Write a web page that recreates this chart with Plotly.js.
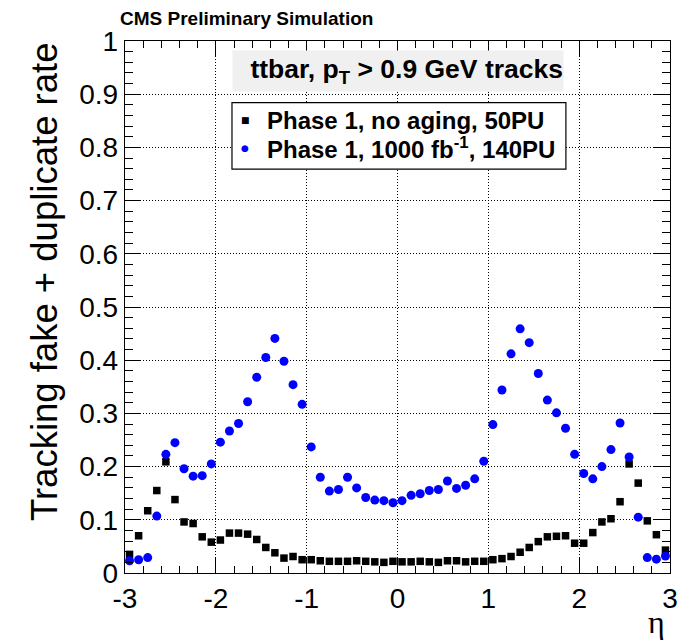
<!DOCTYPE html>
<html>
<head>
<meta charset="utf-8">
<script src="https://cdn.plot.ly/plotly-3.0.1.min.js"></script>
<style>
html, body { margin: 0; padding: 0; background: #ffffff; }
#chart { width: 681px; height: 640px; }
</style>
</head>
<body>
<div id="chart"></div>
<script>
// Bin centres in eta
const etaBins = [
  -2.95, -2.85, -2.75, -2.65, -2.55, -2.45, -2.35, -2.25, -2.15, -2.05,
  -1.95, -1.85, -1.75, -1.65, -1.55, -1.45, -1.35, -1.25, -1.15, -1.05,
  -0.95, -0.85, -0.75, -0.65, -0.55, -0.45, -0.35, -0.25, -0.15, -0.05,
   0.05,  0.15,  0.25,  0.35,  0.45,  0.55,  0.65,  0.75,  0.85,  0.95,
   1.05,  1.15,  1.25,  1.35,  1.45,  1.55,  1.65,  1.75,  1.85,  1.95,
   2.05,  2.15,  2.25,  2.35,  2.45,  2.55,  2.65,  2.75,  2.85,  2.95
];

// Phase 1, no aging, 50PU
const rateNoAging50PU = [
  0.035, 0.070, 0.117, 0.155, 0.209, 0.138, 0.096, 0.093, 0.068, 0.058,
  0.062, 0.075, 0.075, 0.073, 0.063, 0.048, 0.038, 0.028, 0.031, 0.025,
  0.025, 0.023, 0.022, 0.022, 0.022, 0.023, 0.022, 0.021, 0.020, 0.022,
  0.021, 0.021, 0.022, 0.021, 0.020, 0.023, 0.023, 0.021, 0.022, 0.022,
  0.025, 0.027, 0.031, 0.039, 0.048, 0.059, 0.068, 0.069, 0.070, 0.056,
  0.056, 0.076, 0.096, 0.102, 0.134, 0.205, 0.169, 0.098, 0.072, 0.043
];

// Phase 1, 1000 fb-1, 140PU
const rateAged140PU = [
  0.023, 0.025, 0.029, 0.107, 0.223, 0.245, 0.196, 0.182, 0.183, 0.205,
  0.246, 0.267, 0.281, 0.322, 0.368, 0.405, 0.441, 0.398, 0.354, 0.317,
  0.237, 0.180, 0.154, 0.157, 0.180, 0.160, 0.142, 0.137, 0.136, 0.132,
  0.136, 0.146, 0.149, 0.155, 0.157, 0.173, 0.159, 0.165, 0.177, 0.210,
  0.279, 0.344, 0.412, 0.459, 0.433, 0.375, 0.325, 0.301, 0.272, 0.223,
  0.187, 0.177, 0.200, 0.232, 0.282, 0.218, 0.105, 0.029, 0.026, 0.032
];

const seriesNames = [
  "Phase 1, no aging, 50PU",
  "Phase 1, 1000 fb<sup>-1</sup>, 140PU"
];
const seriesColors = ["#000000", "#0000ff"];
const legendGlyphs = ["■", "●"];

const xTickVals = [-3, -2, -1, 0, 1, 2, 3];
const xTickText = ["-3", "-2", "-1", "0", "1", "2", "3"];
const yTickVals = [0, 0.1, 0.2, 0.3, 0.4, 0.5, 0.6, 0.7, 0.8, 0.9, 1];
const yTickText = ["0", "0.1", "0.2", "0.3", "0.4", "0.5", "0.6", "0.7", "0.8", "0.9", "1"];

const FONT = "Liberation Sans, Arial, Helvetica, sans-serif";

const traces = [
  {
    x: etaBins, y: rateNoAging50PU, name: seriesNames[0],
    type: "scatter", mode: "markers", showlegend: false,
    marker: { symbol: "square", size: 7.5, color: seriesColors[0], line: { width: 0 } },
    cliponaxis: true
  },
  {
    x: etaBins, y: rateAged140PU, name: seriesNames[1],
    type: "scatter", mode: "markers", showlegend: false,
    marker: { symbol: "circle", size: 9, color: seriesColors[1], line: { width: 0 } },
    cliponaxis: true
  }
];

const axisCommon = {
  showline: true, linecolor: "#000000", linewidth: 1.2,
  mirror: "allticks",
  ticks: "inside", tickcolor: "#000000", tickwidth: 1,
  showgrid: true, gridcolor: "#000000", gridwidth: 1, griddash: "1px,2px",
  zeroline: false,
  tickfont: { family: FONT, size: 28, color: "#000000" },
  tickmode: "array"
};

// manual legend (box + glyph + label), positioned in paper coordinates
const legendBox = { x0: 0.1963, x1: 0.809, y0: 0.759, y1: 0.884 };
const legendRowsY = [0.8515, 0.7989];
const legendGlyphX = 0.2202;
const legendTextX = 0.2569;

const annotations = [
  {
    text: "<b>CMS Preliminary Simulation</b>",
    xref: "paper", yref: "paper", x: -0.013, y: 1.0414,
    xanchor: "left", yanchor: "middle", showarrow: false,
    font: { family: FONT, size: 19, color: "#000000" }
  },
  {
    text: "<b>ttbar, p<sub>T</sub> &gt; 0.9 GeV tracks</b>",
    xref: "paper", yref: "paper", x: 0.1963, y: 0.983,
    xanchor: "left", yanchor: "top", showarrow: false,
    width: 330, height: 40, align: "right", valign: "middle",
    bgcolor: "#f0f0f0", borderpad: 0,
    font: { family: FONT, size: 26.5, color: "#000000" }
  },
  {
    text: "Tracking fake + duplicate rate",
    xref: "paper", yref: "paper", x: -0.1486, y: 1.0,
    xanchor: "center", yanchor: "top", textangle: -90, showarrow: false,
    font: { family: FONT, size: 36.5, color: "#000000" }
  },
  {
    text: "η",
    xref: "paper", yref: "paper", x: 0.976, y: -0.092,
    xanchor: "center", yanchor: "middle", showarrow: false,
    font: { family: "Liberation Serif, DejaVu Serif, serif", size: 32, color: "#000000" }
  }
];

seriesNames.forEach(function (name, i) {
  annotations.push({
    text: legendGlyphs[i],
    xref: "paper", yref: "paper", x: legendGlyphX, y: legendRowsY[i],
    xanchor: "center", yanchor: "middle", showarrow: false,
    font: { family: "DejaVu Sans, sans-serif", size: 9, color: seriesColors[i] }
  });
  annotations.push({
    text: "<b>" + name + "</b>",
    xref: "paper", yref: "paper", x: legendTextX, y: legendRowsY[i],
    xanchor: "left", yanchor: "middle", showarrow: false,
    font: { family: FONT, size: 24, color: "#000000" }
  });
});

const layout = {
  width: 681, height: 640,
  margin: { l: 125, r: 11, t: 41, b: 67, pad: 0 },
  paper_bgcolor: "#ffffff", plot_bgcolor: "#ffffff",
  showlegend: false,
  xaxis: Object.assign({}, axisCommon, {
    range: [-3, 3], tickvals: xTickVals, ticktext: xTickText,
    ticklen: 15,
    minor: { ticks: "inside", dtick: 0.2, tick0: -3, ticklen: 7, tickcolor: "#000000", tickwidth: 1, showgrid: false }
  }),
  yaxis: Object.assign({}, axisCommon, {
    range: [0, 1], tickvals: yTickVals, ticktext: yTickText,
    ticklen: 16,
    minor: { ticks: "inside", dtick: 0.02, tick0: 0, ticklen: 8, tickcolor: "#000000", tickwidth: 1, showgrid: false }
  }),
  shapes: [
    {
      type: "rect", xref: "paper", yref: "paper",
      x0: legendBox.x0, x1: legendBox.x1, y0: legendBox.y0, y1: legendBox.y1,
      fillcolor: "#ffffff", line: { color: "#000000", width: 1.2 }, layer: "above"
    }
  ],
  annotations: annotations
};

Plotly.newPlot("chart", traces, layout, { staticPlot: true, displayModeBar: false });
</script>
</body>
</html>
